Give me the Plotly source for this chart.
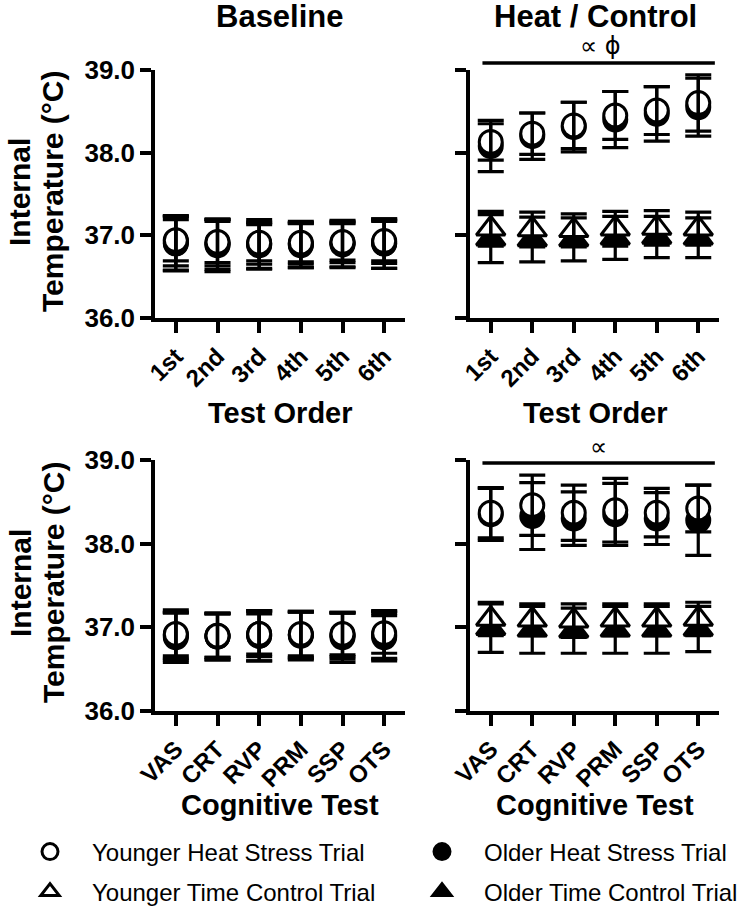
import plotly.graph_objects as go

W, H = 740, 906

order_labels = ["1st", "2nd", "3rd", "4th", "5th", "6th"]
test_labels = ["VAS", "CRT", "RVP", "PRM", "SSP", "OTS"]
y_ticks = [36.0, 37.0, 38.0, 39.0]

# ---- Baseline, by test order ----
base_order_yh = [36.93, 36.91, 36.90, 36.90, 36.91, 36.92]
base_order_yh_sd = [0.30, 0.28, 0.25, 0.25, 0.24, 0.26]
base_order_oh = [36.90, 36.88, 36.89, 36.89, 36.90, 36.90]
base_order_oh_sd = [0.33, 0.32, 0.30, 0.28, 0.28, 0.30]
base_order_yc = [36.94, 36.92, 36.91, 36.91, 36.92, 36.93]
base_order_yc_sd = [0.25, 0.25, 0.22, 0.23, 0.22, 0.24]
base_order_oc = [36.91, 36.89, 36.88, 36.88, 36.89, 36.90]
base_order_oc_sd = [0.33, 0.30, 0.28, 0.27, 0.28, 0.30]

# ---- Heat / Control, by test order ----
heat_order_yh = [38.13, 38.23, 38.33, 38.45, 38.51, 38.60]
heat_order_yh_sd = [0.22, 0.25, 0.28, 0.29, 0.29, 0.34]
heat_order_oh = [38.08, 38.20, 38.31, 38.40, 38.47, 38.55]
heat_order_oh_sd = [0.31, 0.28, 0.30, 0.34, 0.33, 0.35]
heat_order_yc = [37.08, 37.07, 37.06, 37.08, 37.09, 37.08]
heat_order_yc_sd = [0.21, 0.21, 0.20, 0.21, 0.21, 0.20]
heat_order_oc = [36.96, 36.95, 36.95, 36.97, 36.98, 36.97]
heat_order_oc_sd = [0.29, 0.27, 0.26, 0.26, 0.25, 0.24]

# ---- Baseline, by cognitive test ----
base_test_yh = [36.90, 36.90, 36.92, 36.91, 36.91, 36.91]
base_test_yh_sd = [0.27, 0.26, 0.27, 0.27, 0.26, 0.28]
base_test_oh = [36.88, 36.89, 36.90, 36.90, 36.88, 36.90]
base_test_oh_sd = [0.30, 0.28, 0.30, 0.29, 0.30, 0.30]
base_test_yc = [36.92, 36.90, 36.92, 36.92, 36.92, 36.93]
base_test_yc_sd = [0.26, 0.26, 0.24, 0.26, 0.25, 0.24]
base_test_oc = [36.91, 36.89, 36.90, 36.91, 36.90, 36.88]
base_test_oc_sd = [0.30, 0.28, 0.30, 0.28, 0.28, 0.26]

# ---- Heat / Control, by cognitive test ----
heat_test_yh = [38.37, 38.46, 38.37, 38.40, 38.37, 38.42]
heat_test_yh_sd = [0.30, 0.36, 0.33, 0.38, 0.29, 0.28]
heat_test_oh = [38.35, 38.33, 38.30, 38.35, 38.30, 38.28]
heat_test_oh_sd = [0.31, 0.40, 0.32, 0.37, 0.31, 0.42]
heat_test_yc = [37.10, 37.09, 37.08, 37.09, 37.09, 37.10]
heat_test_yc_sd = [0.20, 0.19, 0.20, 0.19, 0.19, 0.20]
heat_test_oc = [36.99, 36.97, 36.96, 36.97, 36.97, 36.98]
heat_test_oc_sd = [0.29, 0.28, 0.27, 0.28, 0.28, 0.27]

series_names = ["Younger Heat Stress Trial", "Older Heat Stress Trial",
                "Younger Time Control Trial", "Older Time Control Trial"]

FONT = "Liberation Sans, Arial, Helvetica, sans-serif"


def px_x(p):
    return p / W


def px_y(p):
    return 1 - p / H


fig = go.Figure()

panels = [
    dict(ax="", cats=order_labels, xdom=(155, 405), ydom=(70, 318), left=True, baseline=True,
         data=[(base_order_oh, base_order_oh_sd), (base_order_oc, base_order_oc_sd),
               (base_order_yh, base_order_yh_sd), (base_order_yc, base_order_yc_sd)]),
    dict(ax="2", cats=order_labels, xdom=(470, 719), ydom=(70, 318), left=False, baseline=False,
         data=[(heat_order_oh, heat_order_oh_sd), (heat_order_oc, heat_order_oc_sd),
               (heat_order_yh, heat_order_yh_sd), (heat_order_yc, heat_order_yc_sd)]),
    dict(ax="3", cats=test_labels, xdom=(155, 405), ydom=(460, 711), left=True, baseline=True,
         data=[(base_test_oh, base_test_oh_sd), (base_test_oc, base_test_oc_sd),
               (base_test_yh, base_test_yh_sd), (base_test_yc, base_test_yc_sd)]),
    dict(ax="4", cats=test_labels, xdom=(470, 719), ydom=(460, 711), left=False, baseline=False,
         data=[(heat_test_oh, heat_test_oh_sd), (heat_test_oc, heat_test_oc_sd),
               (heat_test_yh, heat_test_yh_sd), (heat_test_yc, heat_test_yc_sd)]),
]

# drawing order: older heat, older control, younger heat, younger control
styles_heat = [
    dict(symbol="circle", color="black", size=23),
    dict(symbol="triangle-up", color="black", size=25),
    dict(symbol="circle", color="white", size=23),
    dict(symbol="triangle-up", color="white", size=25),
]
styles_base = [
    dict(symbol="circle", color="black", size=23),
    dict(symbol="circle", color="black", size=23),
    dict(symbol="circle", color="white", size=23),
    dict(symbol="circle", color="white", size=23),
]

layout_axes = {}
for p in panels:
    xa = "x" + p["ax"]
    ya = "y" + p["ax"]
    styles = styles_base if p["baseline"] else styles_heat
    for (vals, sd), st in zip(p["data"], styles):
        fig.add_trace(go.Scatter(
            x=p["cats"], y=vals, mode="markers", xaxis=xa, yaxis=ya, showlegend=False,
            marker=dict(symbol=st["symbol"], size=st["size"], color=st["color"],
                        line=dict(color="black", width=3)),
            cliponaxis=False, hoverinfo="skip"))
    for (vals, sd) in p["data"]:
        fig.add_trace(go.Scatter(
            x=p["cats"], y=vals, mode="markers", xaxis=xa, yaxis=ya, showlegend=False,
            marker=dict(size=1, color="rgba(0,0,0,0)"),
            error_y=dict(type="data", array=sd, visible=True, color="black",
                         thickness=3.2, width=13),
            cliponaxis=False, hoverinfo="skip"))

    axn = p["ax"]
    layout_axes["xaxis" + axn] = dict(
        domain=[px_x(p["xdom"][0]), px_x(p["xdom"][1])],
        anchor=ya, type="category", categoryorder="array", categoryarray=p["cats"],
        range=[-0.5, len(p["cats"]) - 0.5],
        showline=True, linecolor="black", linewidth=3.5,
        ticks="outside", ticklen=11, tickwidth=3.5, tickcolor="black",
        tickangle=-45, showgrid=False, zeroline=False,
        tickfont=dict(family=FONT, size=24, color="black", weight="bold"),
    )
    layout_axes["yaxis" + axn] = dict(
        domain=[px_y(p["ydom"][1]), px_y(p["ydom"][0])],
        anchor=xa, range=[36, 39], tickvals=y_ticks, tickformat=".1f",
        showline=True, linecolor="black", linewidth=3.5,
        ticks="outside", ticklen=11, tickwidth=3.5, tickcolor="black",
        showticklabels=p["left"], showgrid=False, zeroline=False,
        tickfont=dict(family=FONT, size=26, color="black", weight="bold"),
    )

# legend-only traces, each in its own legend box
legend_styles = [
    (series_names[0], "circle", "white", "legend", 8, 852),
    (series_names[1], "circle", "black", "legend2", 400, 852),
    (series_names[2], "triangle-up", "white", "legend3", 8, 892),
    (series_names[3], "triangle-up", "black", "legend4", 400, 892),
]
legend_layouts = {}
for name, sym, col, lg, lx, ly in legend_styles:
    fig.add_trace(go.Scatter(
        x=[None], y=[None], mode="markers", name=name, legend=lg, showlegend=True,
        marker=dict(symbol=sym, size=22, color=col, line=dict(color="black", width=3))))
    legend_layouts[lg] = dict(
        x=px_x(lx), y=px_y(ly), xanchor="left", yanchor="middle", orientation="h",
        itemsizing="trace", bgcolor="rgba(0,0,0,0)", borderwidth=0, itemwidth=74,
        font=dict(family=FONT, size=24, color="black"))

annotations = []


def ann(text, xp, yp, size, bold=True, angle=0, family=FONT):
    annotations.append(dict(
        text=text, x=px_x(xp), y=px_y(yp), xref="paper", yref="paper",
        xanchor="center", yanchor="middle", showarrow=False, textangle=angle,
        font=dict(family=family, size=size, color="black", weight="bold" if bold else "normal")))


ann("Baseline", 280, 17, 31)
ann("Heat / Control", 595, 17, 31)
ann("∝ ϕ", 600, 46, 24, bold=False, family="DejaVu Sans, Liberation Sans, sans-serif")
ann("∝", 598, 447, 24, bold=False, family="DejaVu Sans, Liberation Sans, sans-serif")
ann("Test Order", 280, 413, 29)
ann("Test Order", 595, 413, 29)
ann("Cognitive Test", 280, 805, 29)
ann("Cognitive Test", 595, 805, 29)
for yc in (192, 583):
    ann("Internal", 20, yc, 30, angle=-90)
    ann("Temperature (°C)", 53, yc, 30, angle=-90)

shapes = [
    dict(type="line", xref="x2", yref="paper", x0=-0.2, x1=5.4, y0=px_y(63), y1=px_y(63),
         line=dict(color="black", width=3.5)),
    dict(type="line", xref="x4", yref="paper", x0=-0.2, x1=5.4, y0=px_y(463), y1=px_y(463),
         line=dict(color="black", width=3.5)),
]

fig.update_layout(
    width=W, height=H, margin=dict(l=0, r=0, t=0, b=0, autoexpand=False),
    plot_bgcolor="white", paper_bgcolor="white",
    annotations=annotations, shapes=shapes,
    **legend_layouts,
    **layout_axes,
)

fig.write_html("out.html", config=dict(displayModeBar=False),
               post_script="document.body.style.margin='0px';document.body.style.overflow='hidden';")
